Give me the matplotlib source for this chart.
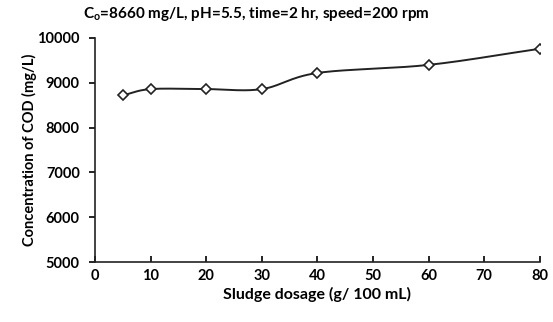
import numpy as np
import matplotlib
matplotlib.use("Agg")
from matplotlib import pyplot as plt

dosage = [5, 10, 20, 30, 40, 60, 80]
cod = [8720, 8860, 8860, 8860, 9220, 9400, 9760]


def smooth(x, y, n=30):
    # Catmull-Rom curve through the points, like Excel's smoothed line
    x = np.asarray(x, float)
    y = np.asarray(y, float)
    px = np.concatenate([[2 * x[0] - x[1]], x, [2 * x[-1] - x[-2]]])
    py = np.concatenate([[2 * y[0] - y[1]], y, [2 * y[-1] - y[-2]]])
    t = np.linspace(0, 1, n)
    xs, ys = [], []
    for i in range(1, len(px) - 2):
        for p, out in ((px, xs), (py, ys)):
            p0, p1, p2, p3 = p[i - 1], p[i], p[i + 1], p[i + 2]
            out.extend(0.5 * ((2 * p1) + (-p0 + p2) * t
                              + (2 * p0 - 5 * p1 + 4 * p2 - p3) * t ** 2
                              + (-p0 + 3 * p1 - 3 * p2 + p3) * t ** 3))
    return xs, ys


plt.rcParams['font.family'] = ['Lato', 'DejaVu Sans']
plt.rcParams['font.weight'] = 'bold'

fig = plt.figure(figsize=(5.53, 3.22), dpi=100)
ax = fig.add_axes([0.172, 0.186, 0.804, 0.696])

sx, sy = smooth(dosage, cod)
ax.plot(sx, sy, color='#222222', linewidth=1.4)
ax.plot(dosage, cod, linestyle='none', marker='D', markersize=5.5,
        markerfacecolor='white', markeredgecolor='#222222', markeredgewidth=1.2)

ax.set_xlim(0, 80)
ax.set_ylim(5000, 10000)
ax.set_xticks(range(0, 81, 10))
ax.set_yticks(range(5000, 10001, 1000))
for s in ('top', 'right'):
    ax.spines[s].set_visible(False)
for s in ('left', 'bottom'):
    ax.spines[s].set_linewidth(1.2)
    ax.spines[s].set_color('#222222')
ax.tick_params(axis='x', direction='in', length=4, width=1.2, labelsize=10.5, pad=5)
ax.tick_params(axis='y', direction='out', length=4, width=1.2, labelsize=10.5, pad=7)
for lab in ax.get_xticklabels() + ax.get_yticklabels():
    lab.set_fontweight('bold')

ax.set_xlabel('Sludge dosage (g/ 100 mL)', fontsize=11.5, fontweight='bold', labelpad=3)
ax.set_ylabel('Concentration of COD (mg/L)', fontsize=10.5, fontweight='bold', labelpad=0)
fig.text(0.15, 0.955, 'C$_\\mathregular{o}$=8660 mg/L, pH=5.5, time=2 hr, speed=200 rpm',
         fontsize=11, fontweight='bold', ha='left', va='center')

fig.savefig('out.png', dpi=100)
